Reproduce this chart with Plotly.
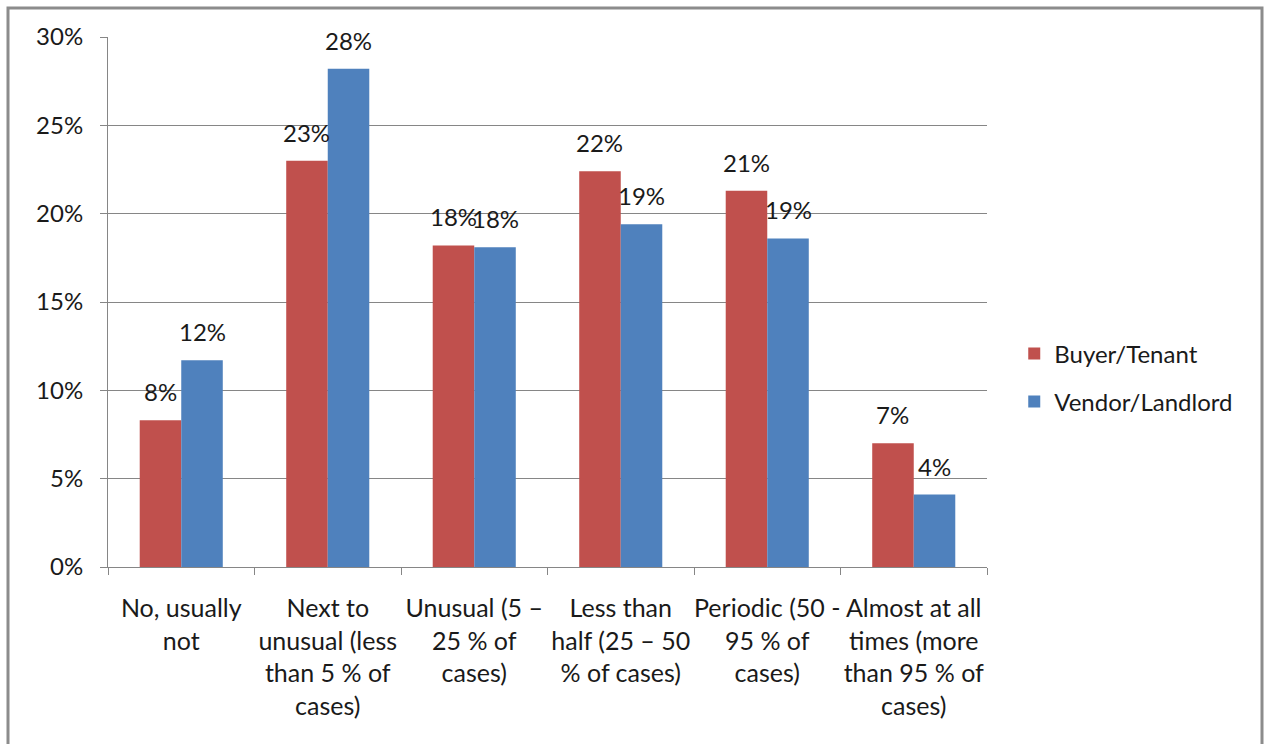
import plotly.graph_objects as go

# Survey answers: how often each party is affected
categories = [
    "No, usually<br>not",
    "Next to<br>unusual (less<br>than 5 % of<br>cases)",
    "Unusual (5 –<br>25 % of<br>cases)",
    "Less than<br>half (25 – 50<br>% of cases)",
    "Periodic (50 -<br>95 % of<br>cases)",
    "Almost at all<br>times (more<br>than 95 % of<br>cases)",
]
buyer_tenant = [0.083, 0.230, 0.182, 0.224, 0.213, 0.070]
vendor_landlord = [0.117, 0.282, 0.181, 0.194, 0.186, 0.041]
y_ticks = [0, 0.05, 0.10, 0.15, 0.20, 0.25, 0.30]

RED = "#C0504D"
BLUE = "#4F81BD"
GRID = "#868686"
FONT = "Lato"
FS = 24

BARGAP = 0.433
W, H = 1264, 744
L, R, T, B = 108, 277, 37, 177

fig = go.Figure()
fig.add_trace(go.Bar(name="Buyer/Tenant", x=categories, y=buyer_tenant,
                     legendgroup="a",
                     marker=dict(color=RED, line=dict(width=0))))
fig.add_trace(go.Bar(name="Vendor/Landlord", x=categories, y=vendor_landlord,
                     legendgroup="b",
                     marker=dict(color=BLUE, line=dict(width=0))))

# value labels centred over each bar of the group
bar_w = (1 - BARGAP) / 2
for i in range(len(categories)):
    for val, off in ((buyer_tenant[i], -bar_w / 2), (vendor_landlord[i], bar_w / 2)):
        fig.add_annotation(x=i + off, y=val, xref="x", yref="y",
                           text=f"{val:.0%}", showarrow=False,
                           yanchor="bottom", yshift=12,
                           font=dict(family=FONT, size=FS, color="#1a1a1a"))

# outer chart frame (open at the bottom edge of the page)
pw = W - L - R
ph = H - T - B
fig.add_shape(type="rect", xref="paper", yref="paper",
              x0=(8 - L) / pw, x1=(1262 - L) / pw,
              y0=-(H + 20 - T - ph) / ph, y1=(H - 8 - B) / ph,
              line=dict(color="#8c8c8c", width=3), layer="below")

fig.update_layout(
    width=W, height=H,
    margin=dict(l=L, r=R, t=T, b=B, autoexpand=False),
    paper_bgcolor="white", plot_bgcolor="white",
    barmode="group", bargap=BARGAP, bargroupgap=0,
    font=dict(family=FONT, size=FS, color="#1a1a1a"),
    showlegend=True,
    legend=dict(x=1.031, y=0.357, xanchor="left", yanchor="middle",
                font=dict(family=FONT, size=FS), tracegroupgap=14,
                itemwidth=30, bgcolor="rgba(0,0,0,0)"),
)
fig.update_yaxes(range=[0, 0.30], tickvals=y_ticks, tickformat=".0%",
                 showgrid=True, gridcolor=GRID, gridwidth=1,
                 showline=True, linecolor=GRID, linewidth=1,
                 ticks="outside", ticklen=7, tickcolor=GRID,
                 ticklabelstandoff=12, zeroline=False)
fig.update_xaxes(showline=True, linecolor=GRID, linewidth=1,
                 ticks="outside", ticklen=7, tickcolor=GRID,
                 tickson="boundaries", ticklabelstandoff=19, tickangle=0,
                 tickfont=dict(family=FONT, size=25),
                 showgrid=False, mirror=False)

fig.write_html("out.html")
